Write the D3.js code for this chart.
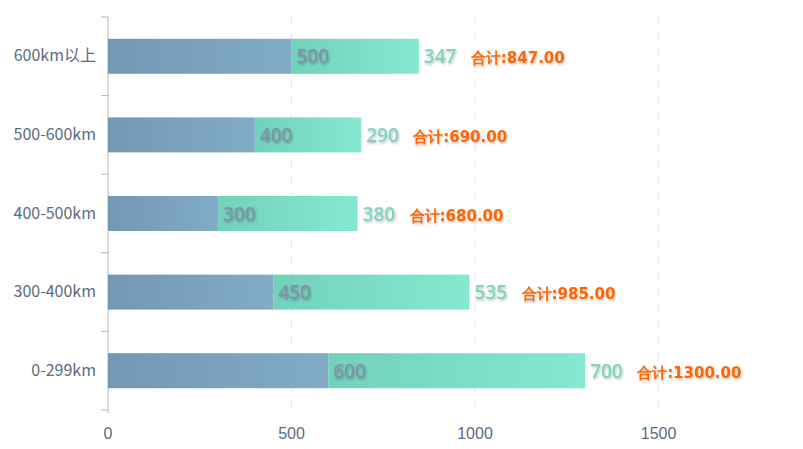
<!DOCTYPE html>
<html><head><meta charset="utf-8">
<script src="https://cdn.jsdelivr.net/npm/d3@7"></script>
<style>body{margin:0;background:#fff}svg{display:block}</style>
</head><body>
<svg id="c" width="803" height="449"></svg>
<script>
const categories = ["0-299km","300-400km","400-500km","500-600km","600km以上"];
const series1 = [600,450,300,400,500];
const series2 = [700,535,380,290,347];
const xTicks = [0,500,1000,1500];

(function(){
const svg = d3.select("#c");
const defs = svg.append("defs");
const g1 = defs.append("linearGradient").attr("id","g1").attr("x1","0").attr("x2","1").attr("y1","0").attr("y2","0");
g1.append("stop").attr("offset","0").attr("stop-color","#7398b3");
g1.append("stop").attr("offset","1").attr("stop-color","#81abc7");
const g2 = defs.append("linearGradient").attr("id","g2").attr("x1","0").attr("x2","1").attr("y1","0").attr("y2","0");
g2.append("stop").attr("offset","0").attr("stop-color","#72d1bb");
g2.append("stop").attr("offset","1").attr("stop-color","#84e9d0");
const f = defs.append("filter").attr("id","sh").attr("x","-20%").attr("y","-20%").attr("width","140%").attr("height","160%");
f.append("feDropShadow").attr("dx",1).attr("dy",1.5).attr("stdDeviation",1).attr("flood-color","#000").attr("flood-opacity",0.25);

const L=108, R=787, T=17, B=410;
const x = d3.scaleLinear().domain([0,1850]).range([L,R]);
const y = d3.scaleBand().domain(categories.slice().reverse()).range([T,B]);
const bh = 35;

svg.append("g").selectAll("line").data(xTicks.filter(d=>d>0)).join("line")
  .attr("x1",d=>x(d)).attr("x2",d=>x(d)).attr("y1",T).attr("y2",B)
  .attr("stroke","#e0e6ee").attr("stroke-dasharray","8,8");

svg.append("g").selectAll("text").data(xTicks).join("text")
  .attr("x",d=>x(d)).attr("y",439).attr("text-anchor","middle")
  .attr("font-family","Liberation Sans Narrow, Liberation Sans, sans-serif").attr("font-size",16)
  .attr("fill","#5b6b80").text(d=>d);

const yAxis = d3.axisLeft(y).tickSize(0).tickPadding(12);
const ya = svg.append("g").attr("transform",`translate(${L},0)`).call(yAxis);
ya.select(".domain").attr("stroke","#a9b7c6").attr("d",`M0,${T}V${B+3}`);
ya.selectAll("text").attr("font-family","Noto Sans CJK SC, sans-serif").attr("font-size",16).attr("fill","#5b6b80");
const bounds = d3.range(categories.length+1).map(i=>T + i*y.step());
svg.append("g").selectAll("line").data(bounds).join("line")
  .attr("x1",L-7).attr("x2",L).attr("y1",d=>d).attr("y2",d=>d).attr("stroke","#a9b7c6");

const rows = categories.map((c,i)=>({c,a:series1[i],b:series2[i]}));
const gb = svg.append("g");
gb.selectAll("rect.a").data(rows).join("rect").attr("class","a")
  .attr("x",x(0)).attr("y",d=>y(d.c)+(y.bandwidth()-bh)/2).attr("width",d=>x(d.a)-x(0)).attr("height",bh).attr("fill","url(#g1)");
gb.selectAll("rect.b").data(rows).join("rect").attr("class","b")
  .attr("x",d=>x(d.a)).attr("y",d=>y(d.c)+(y.bandwidth()-bh)/2).attr("width",d=>x(d.a+d.b)-x(d.a)).attr("height",bh).attr("fill","url(#g2)");

const font = "Open Sans, DejaVu Sans, sans-serif";
const ty = d=>y(d.c)+y.bandwidth()/2+7;
gb.selectAll("text.la").data(rows).join("text").attr("class","la")
  .attr("x",d=>x(d.a)+5).attr("y",ty).attr("font-family",font).attr("font-size",19).attr("font-weight",600)
  .attr("fill","#7f92a9").attr("filter","url(#sh)").text(d=>d.a);
gb.selectAll("text.lb").data(rows).join("text").attr("class","lb")
  .attr("x",d=>x(d.a+d.b)+5).attr("y",ty).attr("font-family",font).attr("font-size",19).attr("font-weight",600)
  .attr("fill","#7fd4c0").attr("filter","url(#sh)").text(d=>d.b);
gb.selectAll("text.lt").data(rows).join("text").attr("class","lt")
  .attr("x",d=>x(d.a+d.b)+52).attr("y",ty).attr("font-family","DejaVu Sans, sans-serif").attr("font-size",15).attr("font-weight",700)
  .attr("fill","#ff6600").attr("filter","url(#sh)").text(d=>"合计:"+(d.a+d.b).toFixed(2));
})();
</script>
</body></html>
